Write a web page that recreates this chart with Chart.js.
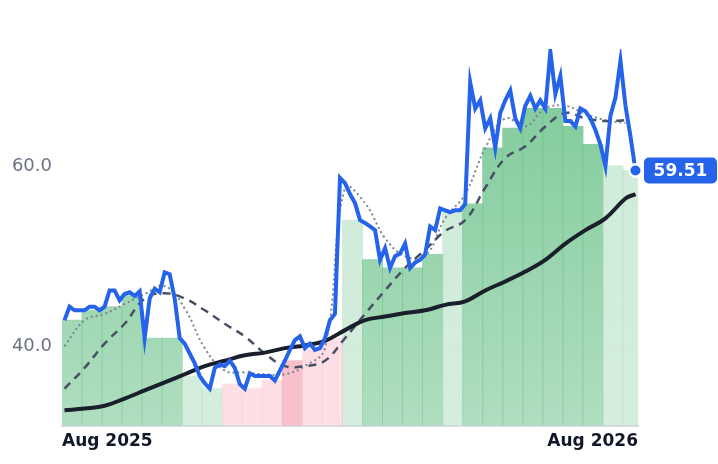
<!DOCTYPE html>
<html>
<head>
<meta charset="utf-8">
<script src="https://cdn.jsdelivr.net/npm/chart.js@4"></script>
<style>
  html, body { margin: 0; padding: 0; background: #fff; }
  #wrap { width: 718px; height: 464px; }
</style>
</head>
<body>
<div id="wrap"><canvas id="chart"></canvas></div>
<script>
"use strict";

// price, one point per step
var price = [42.9, 44.4, 44.0, 44.0, 44.0, 44.4, 44.4, 44.0, 44.4, 46.2, 46.2, 45.1, 45.8, 46.0, 45.6, 46.1,
  40.9, 45.3, 46.4, 46.0, 48.2, 48.0, 45.3, 40.9, 40.3, 39.2, 38.1, 36.7, 35.9, 35.3, 37.6, 38.0,
  37.8, 38.4, 37.6, 35.8, 35.3, 37.0, 36.7, 36.7, 36.7, 36.7, 36.2, 37.3, 38.4, 39.6, 40.7, 41.1,
  39.8, 40.3, 39.6, 39.8, 40.9, 42.9, 43.6, 58.7, 58.1, 56.9, 55.9, 54.0, 53.7, 53.3, 52.9, 49.6,
  50.9, 48.7, 50.0, 50.3, 51.4, 48.7, 49.3, 49.6, 50.2, 53.3, 52.9, 55.3, 55.1, 54.9, 55.1, 55.1,
  55.8, 69.3, 66.4, 67.3, 64.2, 65.3, 62.0, 65.9, 67.3, 68.4, 65.3, 64.2, 66.7, 67.8, 66.4, 67.3,
  66.4, 72.7, 68.0, 70.0, 65.0, 65.0, 64.4, 66.4, 66.1, 65.3, 64.0, 62.4, 60.0, 65.6, 67.6, 71.7,
  66.7, 63.3, 59.51];

// moving averages, read every 4th step
var maX = [0, 4, 8, 12, 16, 20, 24, 28, 32, 36, 40, 44, 48, 52, 56, 60, 64, 68, 72, 76, 80, 84, 88, 92, 96, 100, 104, 108, 112];
var maShort = [40.0, 42.9, 43.6, 44.7, 45.8, 46.7, 44.2, 39.8, 37.3, 37.1, 36.9, 36.9, 37.8, 39.8, 57.6, 55.9, 52.0, 50.0, 50.0, 54.2, 56.9, 62.0, 65.3, 64.4, 66.4, 66.7, 65.8, 65.1, 64.8];
var maMid = [35.3, 37.6, 40.3, 42.5, 45.3, 45.9, 45.3, 44.0, 42.5, 41.1, 39.2, 37.8, 37.8, 38.4, 40.9, 43.6, 46.2, 48.7, 50.7, 52.8, 54.0, 57.6, 60.9, 62.2, 64.4, 65.9, 65.3, 65.0, 65.1];
var maLong = [32.9, 33.1, 33.4, 34.2, 35.1, 36.0, 36.9, 37.8, 38.4, 39.0, 39.3, 39.8, 40.1, 40.6, 41.8, 42.9, 43.3, 43.7, 44.0, 44.6, 45.0, 46.2, 47.2, 48.3, 49.6, 51.4, 52.9, 54.2, 56.4];
var maLongEnd = { x: 114, y: 56.9 };

// background zones: [from, to, kind]
var zones = [[-1, 24, "g"], [24, 32.4, "gl"], [32.4, 42, "rl"], [42, 46.4, "r"], [46.4, 54.4, "rl"],
  [54.4, 58.4, "gl"], [58.4, 74.4, "g"], [74.4, 77.6, "gl"], [77.6, 108, "g"], [108, 117, "gl"]];

var xMin = -0.5, xMax = 114.5;
var tickLabels = { "-0.5": "Aug 2025", "114.5": "Aug 2026" };

function zoneOf(i) {
  for (const z of zones) { if (i >= z[0] && i < z[1]) return z[2]; }
  return "gl";
}

// bars: lowest price of each group of 4 steps, one bar per group
var bars = [];
for (let g = 0; g < price.length; g += 4) {
  bars.push({ x: g + 1.5, y: Math.min(...price.slice(g, g + 4)) });
}

function zoneFill(ctx) {
  const chart = ctx.chart, a = chart.chartArea;
  if (!a || !ctx.raw) return "#9fd8b0";
  const k = zoneOf(ctx.raw.x);
  const gr = chart.ctx.createLinearGradient(0, a.top, 0, a.bottom);
  if (k === "g") { gr.addColorStop(0, "rgba(110,195,140,0.9)"); gr.addColorStop(1, "rgba(110,195,140,0.55)"); }
  else if (k === "gl") { gr.addColorStop(0, "rgba(160,215,180,0.5)"); gr.addColorStop(1, "rgba(160,215,180,0.45)"); }
  else if (k === "r") { gr.addColorStop(0, "rgba(245,165,180,0.7)"); gr.addColorStop(1, "rgba(245,165,180,0.7)"); }
  else { gr.addColorStop(0, "rgba(252,205,215,0.65)"); gr.addColorStop(1, "rgba(252,205,215,0.65)"); }
  return gr;
}

function pts(xs, ys) { return ys.map((v, i) => ({ x: xs[i], y: v })); }

var lastLabel = {
  id: "lastLabel",
  afterDatasetsDraw(chart) {
    const meta = chart.getDatasetMeta(0);
    const p = meta.data[meta.data.length - 1];
    const c = chart.ctx;
    c.save();
    c.beginPath(); c.arc(p.x, p.y, 7.5, 0, Math.PI * 2); c.fillStyle = "#fff"; c.fill();
    c.beginPath(); c.arc(p.x, p.y, 5, 0, Math.PI * 2); c.fillStyle = "#2563eb"; c.fill();
    const bx = 644, by = p.y - 13, bw = 73, bh = 26;
    c.beginPath(); c.roundRect(bx, by, bw, bh, 5); c.fillStyle = "#2563eb"; c.fill();
    c.fillStyle = "#fff"; c.font = "bold 17px 'DejaVu Sans'"; c.textAlign = "center"; c.textBaseline = "middle";
    c.fillText(price[price.length - 1].toFixed(2), bx + bw / 2, p.y + 1);
    c.restore();
  }
};

new Chart(document.getElementById("chart"), {
  type: "line",
  data: {
    datasets: [
      { data: price.map((v, i) => ({ x: i, y: v })), borderColor: "#2563eb", borderWidth: 4, pointRadius: 0, tension: 0, order: 0 },
      { data: pts(maX, maShort), borderColor: "#7b8494", borderWidth: 2, borderDash: [2, 3], pointRadius: 0, tension: 0.4, order: 3 },
      { data: pts(maX, maMid), borderColor: "#475063", borderWidth: 2.5, borderDash: [8, 6], pointRadius: 0, tension: 0.4, order: 2 },
      { data: pts(maX, maLong).concat([maLongEnd]), borderColor: "#1a1f2c", borderWidth: 4, pointRadius: 0, tension: 0.4, order: 1 },
      { type: "bar", data: bars, backgroundColor: zoneFill, borderWidth: 0, inflateAmount: 0.5, grouped: false,
        barPercentage: 1, categoryPercentage: 1, order: 5, base: 31 }
    ]
  },
  options: {
    responsive: true,
    maintainAspectRatio: false,
    animation: false,
    layout: { padding: { top: 49, right: 80, bottom: 6, left: 0 } },
    plugins: { legend: { display: false }, tooltip: { enabled: false } },
    scales: {
      x: {
        type: "linear", min: xMin, max: xMax, offset: false,
        grid: { display: false, drawTicks: false },
        border: { color: "#d9dde3", width: 2 },
        afterBuildTicks(ax) { ax.ticks = [{ value: xMin }, { value: xMax }]; },
        ticks: {
          autoSkip: false, maxRotation: 0, padding: 6, color: "#111827", align: "inner",
          font: { family: "DejaVu Sans", size: 17, weight: "bold" },
          callback: (v) => tickLabels[String(v)] || ""
        }
      },
      y: {
        min: 31.2, max: 73,
        afterFit(ax) { ax.width = 62; },
        grid: { display: false, drawTicks: false },
        border: { display: false },
        afterBuildTicks(ax) { ax.ticks = [{ value: 40 }, { value: 60 }]; },
        ticks: { color: "#6b7280", padding: 10, font: { family: "DejaVu Sans", size: 18 }, callback: (v) => v.toFixed(1) }
      }
    }
  },
  plugins: [lastLabel]
});
</script>
</body>
</html>
